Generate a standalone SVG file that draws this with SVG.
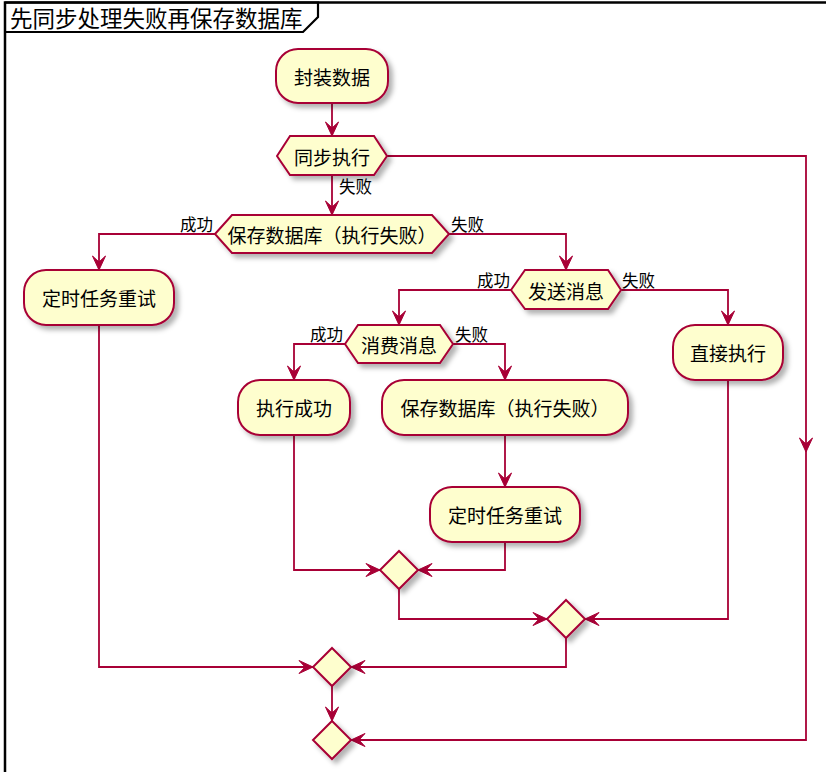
<svg xmlns="http://www.w3.org/2000/svg" width="826" height="772" viewBox="0 0 826 772">
<style>
.n{fill:#FEFECE;stroke:#A80036;stroke-width:2;filter:url(#sh)}
.t{font-family:"Noto Sans CJK SC","Noto Sans",sans-serif;font-size:19px;fill:#000;text-anchor:middle;dominant-baseline:central}
.l{font-family:"Noto Sans CJK SC","Noto Sans",sans-serif;font-size:16.5px;fill:#000}
.c{fill:none;stroke:#A80036;stroke-width:1.8}
.a{fill:#A80036;stroke:#A80036;stroke-width:1}
</style>
<defs>
<filter id="sh" x="-20%" y="-20%" width="150%" height="160%">
<feDropShadow dx="4" dy="4" stdDeviation="2.5" flood-color="#000" flood-opacity="0.3"/>
</filter>
<path id="ah" d="M0,0 L-6.5,-14 L0,-8 L6.5,-14 Z"/>
</defs>
<rect width="826" height="772" fill="#fff"/>
<g id="frame">
<path d="M5,840 L5,2.5 L840,2.5" fill="none" stroke="#000" stroke-width="2.5"/>
<path d="M5,2.5 L318,2.5 L318,17 L303,32 L5,32" fill="none" stroke="#000" stroke-width="2.2"/>
<text x="10" y="27" style="font-family:'Noto Sans CJK SC','Noto Sans',sans-serif;font-size:22.5px;fill:#000">先同步处理失败再保存数据库</text>
</g>
<g id="connectors">
<path class="c" d="M332,103 L332,136"/>
<path class="c" d="M332,175 L332,215"/>
<path class="c" d="M215,234 L99,234 L99,270"/>
<path class="c" d="M449,234 L566,234 L566,270"/>
<path class="c" d="M511,290 L399,290 L399,325"/>
<path class="c" d="M621,290 L728,290 L728,325"/>
<path class="c" d="M345,344 L294,344 L294,380"/>
<path class="c" d="M453,344 L505,344 L505,380"/>
<path class="c" d="M505,435 L505,487"/>
<path class="c" d="M294,435 L294,570 L380,570"/>
<path class="c" d="M505,542 L505,570 L418,570"/>
<path class="c" d="M399,589 L399,619 L547,619"/>
<path class="c" d="M728,380 L728,619 L585,619"/>
<path class="c" d="M566,638 L566,667 L351,667"/>
<path class="c" d="M99,325 L99,667 L313,667"/>
<path class="c" d="M332,686 L332,721"/>
<path class="c" d="M387,156 L806,156 L806,740 L351,740"/>
<use href="#ah" class="a" transform="translate(332,136)"/>
<use href="#ah" class="a" transform="translate(332,215)"/>
<use href="#ah" class="a" transform="translate(99,270)"/>
<use href="#ah" class="a" transform="translate(566,270)"/>
<use href="#ah" class="a" transform="translate(399,325)"/>
<use href="#ah" class="a" transform="translate(728,325)"/>
<use href="#ah" class="a" transform="translate(294,380)"/>
<use href="#ah" class="a" transform="translate(505,380)"/>
<use href="#ah" class="a" transform="translate(505,487)"/>
<use href="#ah" class="a" transform="translate(380,570) rotate(-90)"/>
<use href="#ah" class="a" transform="translate(418,570) rotate(90)"/>
<use href="#ah" class="a" transform="translate(547,619) rotate(-90)"/>
<use href="#ah" class="a" transform="translate(585,619) rotate(90)"/>
<use href="#ah" class="a" transform="translate(351,667) rotate(90)"/>
<use href="#ah" class="a" transform="translate(313,667) rotate(-90)"/>
<use href="#ah" class="a" transform="translate(332,721)"/>
<use href="#ah" class="a" transform="translate(806,452)"/>
<use href="#ah" class="a" transform="translate(351,740) rotate(90)"/>
<text class="l" x="339" y="193">失败</text>
<text class="l" x="213" y="231" text-anchor="end">成功</text>
<text class="l" x="451" y="231">失败</text>
<text class="l" x="510" y="287" text-anchor="end">成功</text>
<text class="l" x="622" y="287">失败</text>
<text class="l" x="343" y="341" text-anchor="end">成功</text>
<text class="l" x="455" y="341">失败</text>
</g>
<g id="n1"><rect class="n" x="276" y="49" width="112" height="54" rx="22"/><text class="t" x="332" y="76">封装数据</text></g>
<g id="n2"><polygon class="n" points="277,156 290,136 374,136 387,156 374,175 290,175"/><text class="t" x="332" y="156">同步执行</text></g>
<g id="n3"><polygon class="n" points="215,234 232,215 432,215 449,234 432,253 232,253"/><text class="t" x="332" y="234">保存数据库（执行失败）</text></g>
<g id="n4"><rect class="n" x="24" y="270" width="150" height="55" rx="22"/><text class="t" x="99" y="297.5">定时任务重试</text></g>
<g id="n5"><polygon class="n" points="511,290 525,270 608,270 621,290 608,309 525,309"/><text class="t" x="566" y="290">发送消息</text></g>
<g id="n6"><rect class="n" x="673" y="325" width="110" height="55" rx="22"/><text class="t" x="728" y="352.5">直接执行</text></g>
<g id="n7"><polygon class="n" points="345,344 358,325 440,325 453,344 440,363 358,363"/><text class="t" x="399" y="344">消费消息</text></g>
<g id="n8"><rect class="n" x="238" y="380" width="112" height="55" rx="22"/><text class="t" x="294" y="407.5">执行成功</text></g>
<g id="n9"><rect class="n" x="382" y="380" width="246" height="55" rx="22"/><text class="t" x="505" y="407.5">保存数据库（执行失败）</text></g>
<g id="n10"><rect class="n" x="430" y="487" width="150" height="55" rx="22"/><text class="t" x="505" y="514.5">定时任务重试</text></g>
<g id="d1"><polygon class="n" points="399,551 418,570 399,589 380,570"/></g>
<g id="d2"><polygon class="n" points="566,600 585,619 566,638 547,619"/></g>
<g id="d3"><polygon class="n" points="332,648 351,667 332,686 313,667"/></g>
<g id="d4"><polygon class="n" points="332,721 351,740 332,759 313,740"/></g>
</svg>
